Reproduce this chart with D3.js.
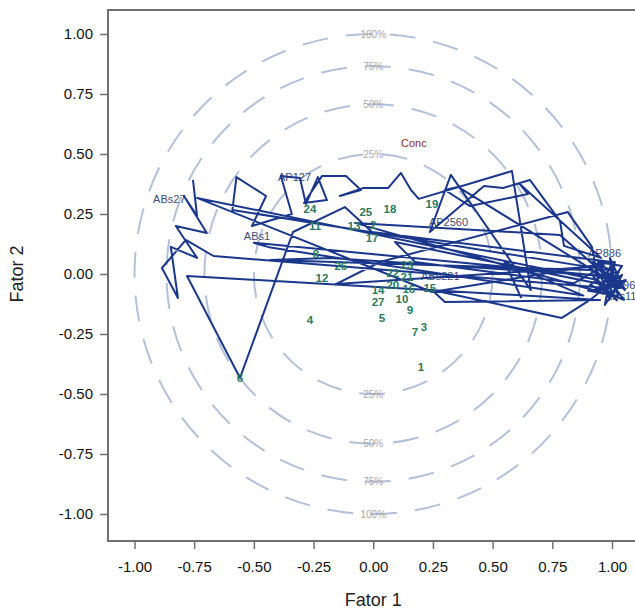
<!DOCTYPE html>
<html>
<head>
<meta charset="utf-8">
<script src="https://cdn.jsdelivr.net/npm/d3@7"></script>
<style>
  body { margin: 0; background: #fff; }
  text { font-family: "Liberation Sans", Arial, sans-serif; }
</style>
</head>
<body>
<div id="chart-container"></div>
<script>
// axis ticks and the R2 rings
const tickValues = [-1, -0.75, -0.5, -0.25, 0, 0.25, 0.5, 0.75, 1];
const ringPct = [25, 50, 75, 100];

// loadings path (Fator 1, Fator 2), in the order they are joined
const loadX = [
  -0.755, -0.738, -0.793, -0.697, -0.827, -0.738, -0.848, -0.818, -0.885, -0.785, -0.669,
  0.979, 0.916, 1.004,
  -0.590, -0.573, -0.449, -0.508, -0.341, -0.387, -0.307, -0.282, -0.232, -0.194, -0.290,
  -0.215, -0.114, -0.052, -0.140, -0.043, 0.062, 0.116, 0.158, 0.191, 0.581, 0.660,
  0.325, 0.237, 0.464, 0.543, 0.656, 0.782, 0.799, 0.954, 0.614, 0.648, 0.405, 0.300,
  0.355, 1.000, 0.908, 0.790, 0.246, 0.300, 0.950,
  -0.780, -0.558, -0.336, -0.119, -0.005, 1.000, 0.950, -0.077, 0.782, 0.975, -0.181,
  -0.433, 0.908, 1.033, 0.091, 0.175, 0.841, 0.966, -0.156, 0.028, 0.815, 0.916, 0.941,
  -0.738, 0.246,
  1.012, 0.987, 1.042, 0.933, 1.025, 0.991, 1.054, 0.950, 1.033, 0.970, 1.000, 0.908,
  1.050, 0.983, 1.017, 0.941, 1.042, 0.962, 1.008, 1.058, 0.987, 0.920, 1.029, 0.975,
  0.930, 1.020, 0.960, 1.045, 0.900, 1.000, 0.945, 1.030,
  -0.500, -0.430, 0.880, 0.550, 0.620
];
const loadY = [
  0.392, 0.242, 0.325, 0.171, 0.200, 0.067, 0.113, -0.100, 0.025, 0.142, 0.075,
  -0.058, 0.050, 0.013,
  0.267, 0.404, 0.325, 0.200, 0.250, 0.408, 0.400, 0.292, 0.404, 0.308, 0.296,
  0.408, 0.408, 0.350, 0.325, 0.358, 0.358, 0.421, 0.350, 0.313, 0.429, -0.067,
  0.413, 0.175, 0.367, 0.358, 0.392, 0.221, 0.117, 0.067, 0.375, 0.333, 0.283, 0.350,
  0.363, -0.033, -0.108, -0.183, -0.067, -0.117, -0.108,
  -0.008, -0.433, 0.175, 0.279, 0.175, 0.050, -0.075, 0.213, 0.163, -0.008, 0.067,
  0.058, 0.017, -0.058, 0.133, 0.050, -0.038, 0.033, -0.042, 0.050, 0.258, 0.113, -0.025,
  0.317, -0.075,
  0.050, -0.108, -0.004, -0.075, -0.092, 0.067, -0.067, 0.017, -0.033, -0.129, 0.025, -0.046,
  -0.108, -0.017, -0.067, 0.050, 0.033, -0.083, -0.038, -0.025, -0.096, -0.008, 0.008, -0.050,
  -0.020, -0.110, 0.000, -0.045, -0.070, -0.085, -0.040, -0.015,
  0.130, 0.110, -0.090, 0.050, -0.100
];

// variable labels on the path
const varNames = ["ABs27", "AP127", "ABs1", "AP2560", "ABs221", "AP886", "AB96", "ABs11"];
const varX = [-0.922, -0.399, -0.542, 0.233, 0.200, 1.038, 0.985, 0.970];
const varY = [0.313, 0.404, 0.158, 0.217, -0.008, 0.088, -0.046, -0.092];

// observations (scores)
const obsNames = ["1","2","3","4","5","6","7","8","9","10","11","12","13","14",
  "15","16","17","18","19","20","21","22","23","24","25","26","27"];
const obsX = [0.200, 0.000, 0.212, -0.265, 0.036, -0.558, 0.175, -0.240, 0.154, 0.120,
  -0.244, -0.215, -0.081, 0.020, 0.237, 0.149, -0.005, 0.070, 0.246, 0.082, 0.141, 0.082,
  0.141, -0.265, -0.031, -0.136, 0.020];
const obsY = [-0.388, 0.205, -0.221, -0.192, -0.183, -0.433, -0.242, 0.083, -0.150, -0.104,
  0.200, -0.017, 0.200, -0.067, -0.058, -0.063, 0.150, 0.271, 0.292, -0.046, -0.013, 0.004,
  0.038, 0.271, 0.258, 0.033, -0.117];

// supplementary variable
const suppNames = ["Conc"];
const suppX = [0.17];
const suppY = [0.546];

let width = 635, height = 612;

let x = d3.scaleLinear().domain([-1, 1]).range([134.5, 612]);
let y = d3.scaleLinear().domain([-1, 1]).range([514, 34]);

let svg = d3.select("#chart-container")
  .append("svg")
  .attr("width", width)
  .attr("height", height);

let frameLeft = x(-1.111), frameTop = y(1.1), frameBottom = y(-1.1125);

// rings
svg.append("g").selectAll("ellipse")
  .data(ringPct)
  .enter().append("ellipse")
  .attr("cx", x(0))
  .attr("cy", y(0))
  .attr("rx", d => x(Math.sqrt(d / 100)) - x(0))
  .attr("ry", d => y(0) - y(Math.sqrt(d / 100)))
  .attr("fill", "none")
  .attr("stroke", "#b4c0da")
  .attr("stroke-width", 2)
  .attr("stroke-dasharray", "26,18");

// ring labels, top and bottom
let ringLab = [];
ringPct.forEach(p => { ringLab.push([p, 1]); ringLab.push([p, -1]); });
svg.append("g").selectAll("text")
  .data(ringLab)
  .enter().append("text")
  .attr("x", x(0))
  .attr("y", d => y(d[1] * Math.sqrt(d[0] / 100)))
  .attr("dy", "0.35em")
  .attr("text-anchor", "middle")
  .attr("font-size", 10)
  .attr("fill", "#a8a8a8")
  .text(d => d[0] + "%");

// variable labels (under the path, as in the original)
svg.append("g").selectAll("text")
  .data(varNames)
  .enter().append("text")
  .attr("x", (d, i) => x(varX[i]))
  .attr("y", (d, i) => y(varY[i]))
  .attr("dy", "0.35em")
  .attr("text-anchor", (d, i) => d === "AP886" ? "end" : "start")
  .attr("font-size", 11)
  .attr("fill", "#3c4a78")
  .text(d => d);

// the loadings path
let line = d3.line()
  .x(i => x(loadX[i]))
  .y(i => y(loadY[i]));

svg.append("path")
  .datum(d3.range(loadX.length))
  .attr("d", line)
  .attr("fill", "none")
  .attr("stroke", "#1a378c")
  .attr("stroke-width", 2)
  .attr("stroke-linejoin", "round");

// observation numbers
svg.append("g").selectAll("text")
  .data(obsNames)
  .enter().append("text")
  .attr("x", (d, i) => x(obsX[i]))
  .attr("y", (d, i) => y(obsY[i]))
  .attr("dy", "0.35em")
  .attr("text-anchor", "middle")
  .attr("font-size", 11.5)
  .attr("font-weight", 600)
  .attr("fill", "#2b7a5c")
  .text(d => d);

svg.append("g").selectAll("text")
  .data(suppNames)
  .enter().append("text")
  .attr("x", (d, i) => x(suppX[i]))
  .attr("y", (d, i) => y(suppY[i]))
  .attr("dy", "0.35em")
  .attr("text-anchor", "middle")
  .attr("font-size", 11)
  .attr("fill", "#8e2a22")
  .text(d => d);

// axes
let fmt = d => d.toFixed(2);

let xAxis = svg.append("g")
  .attr("transform", `translate(0,${frameBottom})`)
  .call(d3.axisBottom(x).tickValues(tickValues).tickFormat(fmt).tickSizeOuter(0).tickSize(8).tickPadding(12));

let yAxis = svg.append("g")
  .attr("transform", `translate(${frameLeft},0)`)
  .call(d3.axisLeft(y).tickValues(tickValues).tickFormat(fmt).tickSizeOuter(0).tickSize(8).tickPadding(7));

[xAxis, yAxis].forEach(a => {
  a.select(".domain").remove();
  a.selectAll(".tick line").attr("stroke", "#707070").attr("stroke-width", 1.5);
  a.selectAll(".tick text").attr("fill", "#111").attr("font-size", 15)
    .style("font-family", "'Liberation Sans', Arial, sans-serif");
});

// frame (left, top, bottom)
svg.append("path")
  .attr("d", `M${width},${frameTop}H${frameLeft}V${frameBottom}H${width}`)
  .attr("fill", "none")
  .attr("stroke", "#707070")
  .attr("stroke-width", 2);

// axis titles
svg.append("text")
  .attr("x", x(0))
  .attr("y", 606)
  .attr("text-anchor", "middle")
  .attr("font-size", 18)
  .attr("fill", "#222")
  .text("Fator 1");

svg.append("text")
  .attr("transform", `translate(23,${y(0)})rotate(-90)`)
  .attr("text-anchor", "middle")
  .attr("font-size", 18)
  .attr("fill", "#222")
  .text("Fator 2");
</script>
</body>
</html>
